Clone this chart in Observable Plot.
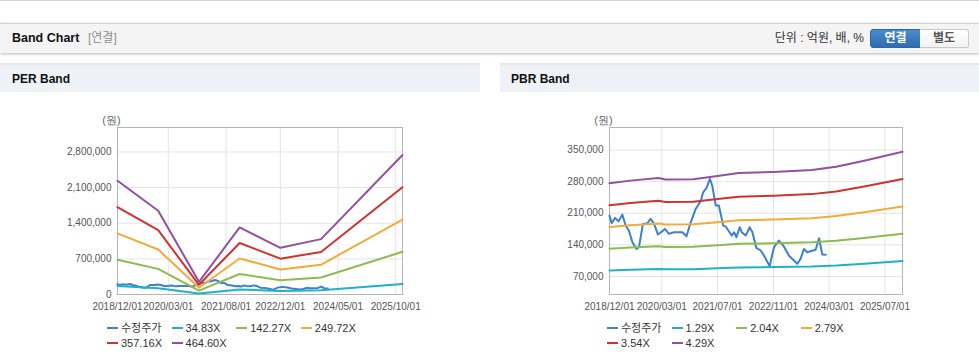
<!DOCTYPE html>
<html>
<head>
<meta charset="utf-8">
<script src="https://cdn.jsdelivr.net/npm/d3@7"></script>
<script src="https://cdn.jsdelivr.net/npm/@observablehq/plot@0.6"></script>
<style>
  body { margin:0; width:979px; height:361px; position:relative; overflow:hidden; background:#fff;
         font-family:"Liberation Sans", Arial, "Noto Sans CJK KR", sans-serif; }
  .abs { position:absolute; }
  .topline { left:0; top:0; width:979px; height:1px; background:#d8d8d8; }
  .hdr { left:0; top:23px; width:979px; height:29px; background:#f4f4f4; border-top:1px solid #d2d2d2;
         box-shadow:0 1px 3px rgba(0,0,0,0.28); line-height:29px; }
  .hdr .title { left:12px; top:0; font-size:12.5px; font-weight:bold; color:#111; }
  .hdr .sub { left:88px; top:0; font-size:12px; color:#8f8f8f; }
  .hdr .unit { right:115px; top:0; font-size:12px; color:#333; }
  .btn { top:5px; height:17px; line-height:17px; font-size:12px; font-weight:bold; text-align:center; }
  .btn1 { left:870px; width:49px; color:#fff; border:1px solid #2e67a6; border-radius:3px 0 0 3px;
          background:linear-gradient(#4c8bcc,#2f6cb0); }
  .btn2 { left:920px; width:48px; color:#555; border:1px solid #c9c9c9; border-left:none; border-radius:0 3px 3px 0;
          background:linear-gradient(#ffffff,#f2f2f2); }
  .phdr { top:63px; height:27px; background:#eef1f6; border-top:2px solid #e3e7ee; line-height:29px;
          font-size:12px; font-weight:bold; color:#111; }
  .legend { top:321px; width:470px; font-size:11px; color:#333; }
  .legrow { height:14.5px; line-height:14.5px; white-space:nowrap; }
  .item { display:inline-block; width:64.6px; vertical-align:top; }
  .sw { display:inline-block; width:11px; height:2px; vertical-align:middle; margin-right:3px; position:relative; top:-1px; }
</style>
</head>
<body>
<div class="abs topline"></div>
<div class="abs hdr">
  <span class="abs title">Band Chart</span>
  <span class="abs sub">[연결]</span>
  <span class="abs unit">단위 : 억원, 배, %</span>
  <div class="abs btn btn1">연결</div>
  <div class="abs btn btn2">별도</div>
</div>
<div class="abs phdr" style="left:0;width:480px;"><span style="padding-left:12px">PER Band</span></div>
<div class="abs phdr" style="left:500px;width:479px;"><span style="padding-left:11px">PBR Band</span></div>
<div id="per" class="abs" style="left:0;top:92px;"></div>
<div id="pbr" class="abs" style="left:500px;top:92px;"></div>
<div id="perLegend" class="abs legend" style="left:107px;"></div>
<div id="pbrLegend" class="abs legend" style="left:607px;"></div>

<script>
// ---------- data ----------
const seriesColors = ["#3d80cb", "#20b1c8", "#8cbb4e", "#f4a93b", "#d0322d", "#92509f"];

// adjusted price (수정주가), shared by both charts
const priceDates = ["2018-12-01","2018-12-20","2019-01-19","2019-02-18","2019-03-23","2019-04-21","2019-05-19","2019-06-19","2019-07-25","2019-08-15","2019-09-19","2019-10-28","2019-11-25","2019-12-25","2020-01-28","2020-03-06","2020-03-28","2020-05-03","2020-06-16","2020-08-28","2020-10-03","2020-11-09","2020-12-22","2021-02-06","2021-02-25","2021-03-27","2021-04-25","2021-05-16","2021-06-15","2021-07-13","2021-08-19","2021-09-10","2021-11-01","2021-11-22","2021-12-13","2022-01-10","2022-01-28","2022-03-04","2022-04-07","2022-05-01","2022-06-04","2022-07-13","2022-08-10","2022-09-28","2022-11-06","2022-12-19","2023-02-01","2023-03-15","2023-05-28","2023-06-25","2023-07-25","2023-08-22","2023-11-04","2023-12-04","2024-01-01","2024-02-01"];
const priceValues = [204800,187800,199700,192000,207000,182700,171700,145800,131000,134800,186400,187800,197500,186400,162800,170000,175400,164400,168000,168000,159000,190000,219600,238000,256400,266000,286000,271000,227000,227000,182700,180500,160600,168000,156900,179000,168000,160600,179000,168000,133400,127500,116400,92800,134800,149600,136000,116400,98000,109000,131000,123700,129000,154600,118600,118000];

// PER band
const perLabels = ["수정주가","34.83X","142.27X","249.72X","357.16X","464.60X"];
const perDates = ["2018-12-01","2019-12-01","2020-12-01","2021-12-01","2022-12-01","2023-12-01","2025-12-01"];
const per3483  = [167500,123300,18600,98700,68700,81500,205300];
const per14227 = [684000,503500,76000,403300,280600,332900,838700];
const per24972 = [1200700,883800,133400,708000,492400,584300,1472100];
const per35716 = [1717200,1264000,190700,1012500,704300,835800,2105500];
const per46460 = [2233800,1644200,248100,1317100,916200,1087200,2738800];
const perXTicks = ["2018-12-01","2020-03-01","2021-08-01","2022-12-01","2024-05-01","2025-10-01"];
const perYTicks = [0,700000,1400000,2100000,2800000];

// PBR band
const pbrLabels = ["수정주가","1.29X","2.04X","2.79X","3.54X","4.29X"];
const pbrDates = ["2018-12-01","2019-06-01","2020-02-01","2020-04-01","2020-12-01","2021-07-01","2022-01-01","2022-11-01","2023-10-01","2024-05-01","2025-01-01","2025-12-01"];
const pbr129 = [83100,84900,86700,85700,85800,88000,89900,90700,92000,94200,98200,104100];
const pbr204 = [131400,134200,137100,135500,135700,139100,142200,143400,145500,148900,155200,164600];
const pbr279 = [179700,183600,187500,185300,185500,190300,194500,196100,198900,203700,212300,225200];
const pbr354 = [228000,232900,237900,235100,235400,241400,246700,248900,252400,258400,269400,285700];
const pbr429 = [276300,282300,288300,284900,285300,292600,299000,301600,305900,313200,326500,346200];
const pbrXTicks = ["2018-12-01","2020-03-01","2021-07-01","2022-11-01","2024-03-01","2025-07-01"];
const pbrYTicks = [70000,140000,210000,280000,350000];

// ---------- drawing ----------
const parse = d3.utcParse("%Y-%m-%d");
const toRows = (dates, values, series) => dates.map((d, i) => ({date: parse(d), value: values[i], series}));

function chart(cfg) {
  const rows = [toRows(priceDates, priceValues, cfg.labels[0])];
  cfg.bands.forEach((b, i) => rows.push(toRows(cfg.bandDates, b, cfg.labels[i + 1])));
  const xt = cfg.xTicks.map(parse);
  return Plot.plot({
    width: cfg.width, height: 226,
    marginLeft: cfg.marginLeft, marginRight: cfg.marginRight, marginTop: 35, marginBottom: 24,
    style: {fontSize: "10px", fontFamily: "'Liberation Sans', Arial, sans-serif", color: "#555", background: "transparent"},
    x: {type: "utc", domain: [parse("2018-12-01"), parse("2025-12-01")], ticks: xt,
        tickFormat: d3.utcFormat("%Y/%m/%d"), tickSize: 0, tickPadding: 8, label: null},
    y: {domain: cfg.yDomain, ticks: cfg.yTicks, tickFormat: d3.format(","), tickSize: 0, tickPadding: 6, label: null},
    marks: [
      Plot.ruleX(xt, {stroke: "#e4e4e4"}),
      Plot.ruleY(cfg.yTicks, {stroke: "#e4e4e4"}),
      Plot.frame({stroke: "#b4b4b4"}),
      ...rows.map((r, i) => Plot.line(r, {x: "date", y: "value", stroke: seriesColors[i], strokeWidth: 2})),
      Plot.text(["(원)"], {frameAnchor: "top-left", text: d => d, dx: -6, dy: -11, fontSize: 11, fill: "#666", textAnchor: "middle"})
    ]
  });
}

document.getElementById("per").appendChild(chart({
  width: 480, marginLeft: 117, marginRight: 78, labels: perLabels,
  bandDates: perDates, bands: [per3483, per14227, per24972, per35716, per46460],
  xTicks: perXTicks, yTicks: perYTicks, yDomain: [0, 3280000]
}));
document.getElementById("pbr").appendChild(chart({
  width: 479, marginLeft: 109, marginRight: 77, labels: pbrLabels,
  bandDates: pbrDates, bands: [pbr129, pbr204, pbr279, pbr354, pbr429],
  xTicks: pbrXTicks, yTicks: pbrYTicks, yDomain: [30000, 400000]
}));

function legend(id, labels) {
  const el = document.getElementById(id);
  [labels.slice(0, 4), labels.slice(4)].forEach((row, r) => {
    const div = document.createElement("div");
    div.className = "legrow";
    row.forEach((lab, j) => {
      const i = r * 4 + j;
      const it = document.createElement("span");
      it.className = "item";
      it.innerHTML = `<span class="sw" style="background:${seriesColors[i]}"></span>${lab}`;
      div.appendChild(it);
    });
    el.appendChild(div);
  });
}
legend("perLegend", perLabels);
legend("pbrLegend", pbrLabels);
</script>
</body>
</html>
